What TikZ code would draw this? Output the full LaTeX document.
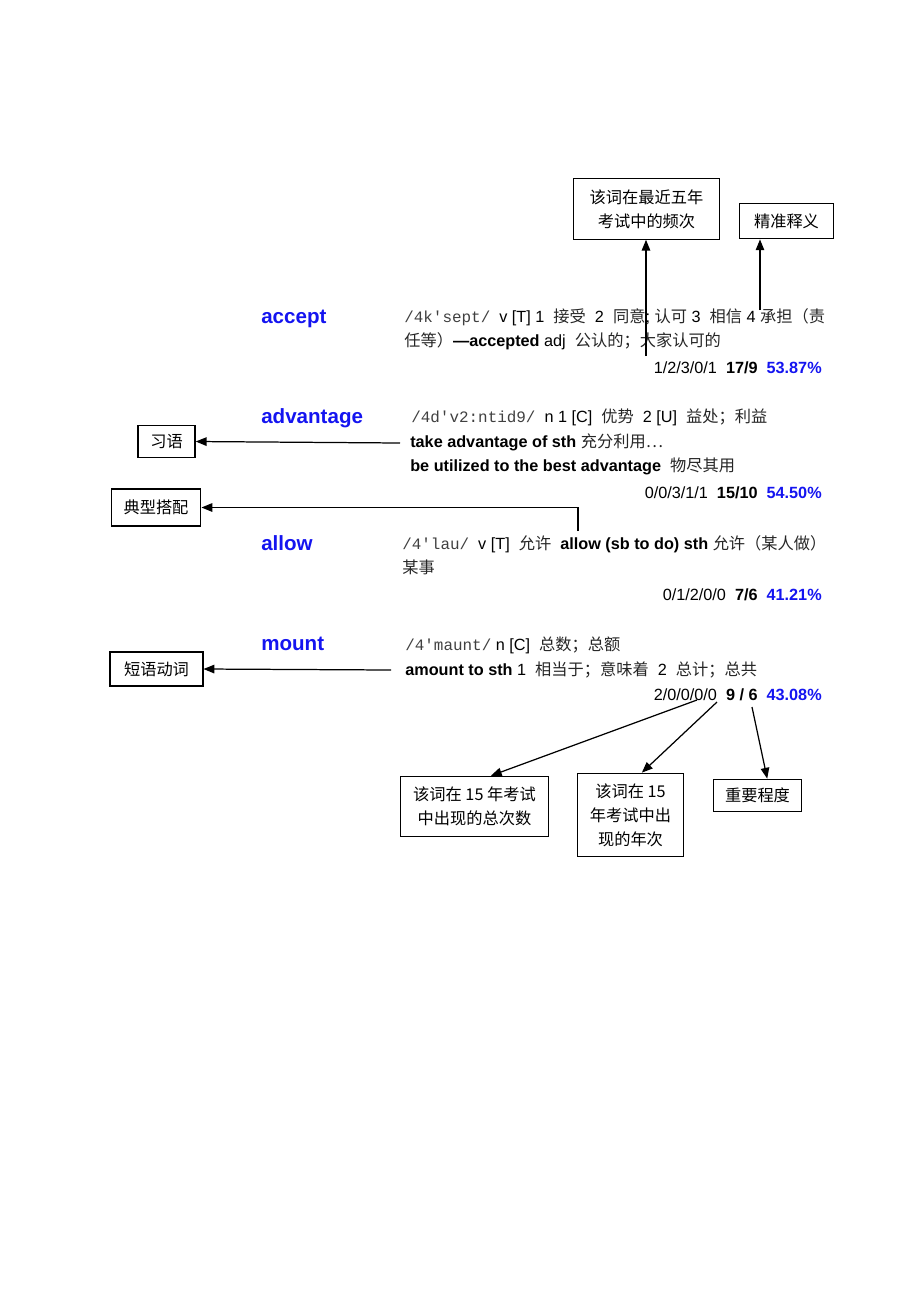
\documentclass[tikz,border=0pt]{standalone}
\usepackage{fontspec}
\setmainfont{Liberation Sans}
\setmonofont{Liberation Mono}
\newfontfamily\cjk{Noto Sans CJK SC}
\usetikzlibrary{positioning, arrows.meta}

\definecolor{hwblue}{RGB}{20,20,240}
\newcommand{\zh}[1]{{\cjk\color{black!85}#1}}
\newcommand{\ipa}[1]{{\ttfamily\fontsize{10.3}{12}\selectfont\color{black!75}#1}}
\newcommand{\qs}{\textquotesingle}

\tikzset{
  word/.style={anchor=base west, inner sep=0pt, text=hwblue,
               font=\fontsize{13.3}{16}\selectfont\bfseries},
  gloss/.style={anchor=base west, inner sep=0pt,
                font=\fontsize{10.5}{13}\selectfont},
  stat/.style={anchor=base east, inner sep=0pt,
               font=\fontsize{10.5}{13}\selectfont},
  tag/.style={draw, line width=0.8pt, align=center, inner sep=0pt,
              font=\cjk\fontsize{10.5}{15.5}\selectfont},
  arr/.style={-{Triangle[length=7pt,width=5.5pt]}, line width=0.8pt},
}

\begin{document}
\begin{tikzpicture}[x=0.6467pt, y=-0.6467pt]
  \useasboundingbox (0,0) rectangle (920,1302);

  % top labels
  \node[tag, minimum width=94pt, minimum height=39pt] (freq) at (646.5,209)
       {该词在最近五年\\考试中的频次};
  \node[tag, minimum width=61pt, minimum height=23pt] (sense) at (786.5,221) {精准释义};

  % accept
  \node[word] (accept) at (261,323) {accept};
  \node[gloss] (acceptA) at (404,322) {\ipa{/4k\qs sept/}\ \ v [T] 1\ \ \zh{接受}\ \ 2\ \ \zh{同意}; \zh{认可} 3\ \ \zh{相信} 4 \zh{承担（责}};
  \node[gloss] (acceptB) at (404,346) {\zh{任等）}\textbf{—accepted} adj\ \ \zh{公认的；大家认可的}};
  \node[stat] (acceptS) at (822,373) {1/2/3/0/1\ \ \textbf{17/9}\ \ \textcolor{hwblue}{\textbf{53.87\%}}};

  % advantage
  \node[tag, minimum width=37pt, minimum height=21pt] (idiom) at (166.5,441.5) {习语};
  \node[word] (adv) at (261,423) {advantage};
  \node[gloss] (advA) at (411,422) {\ipa{/4d\qs v2:ntid9/}\ \ n 1 [C]\ \ \zh{优势}\ \ 2 [U]\ \ \zh{益处；利益}};
  \node[gloss] (advB) at (410,447) {\textbf{take advantage of sth} \zh{充分利用…}};
  \node[gloss] (advC) at (410,471) {\textbf{be utilized to the best advantage}\ \ \zh{物尽其用}};
  \node[stat] (advS) at (822,498) {0/0/3/1/1\ \ \textbf{15/10}\ \ \textcolor{hwblue}{\textbf{54.50\%}}};

  % allow
  \node[tag, minimum width=58pt, minimum height=24pt] (colloc) at (156,507.5) {典型搭配};
  \node[word] (allow) at (261,550) {allow};
  \node[gloss] (allowA) at (402,549) {\ipa{/4\qs lau/}\ \ v [T]\ \ \zh{允许}\ \ \textbf{allow (sb to do) sth} \zh{允许（某人做）}};
  \node[gloss] (allowB) at (402,573) {\zh{某事}};
  \node[stat] (allowS) at (822,600) {0/1/2/0/0\ \ \textbf{7/6}\ \ \textcolor{hwblue}{\textbf{41.21\%}}};

  % mount
  \node[tag, minimum width=60pt, minimum height=22pt] (phrasal) at (156.5,669) {短语动词};
  \node[word] (mount) at (261,650) {mount};
  \node[gloss] (mountA) at (405,650) {\ipa{/4\qs maunt/}\ n [C]\ \ \zh{总数；总额}};
  \node[gloss] (mountB) at (405,675) {\textbf{amount to sth} 1\ \ \zh{相当于；意味着}\ \ 2\ \ \zh{总计；总共}};
  \node[stat] (mountS) at (822,700) {2/0/0/0/0\ \ \textbf{9 / 6}\ \ \textcolor{hwblue}{\textbf{43.08\%}}};

  % bottom labels
  \node[tag, minimum width=96pt, minimum height=39pt] (total) at (474.5,806.5)
       {该词在 15 年考试\\中出现的总次数};
  \node[tag, minimum width=69pt, minimum height=54pt] (years) at (630.5,815)
       {该词在 15\\年考试中出\\现的年次};
  \node[tag, minimum width=57pt, minimum height=21pt] (rank) at (757.5,795.5) {重要程度};

  \coordinate (f0) at (646,356);
  \coordinate (s0) at (760,310);
  \coordinate (i0) at (400,443);
  \coordinate (c0) at (578,531);
  \coordinate (p0) at (391,670);
  \coordinate (t0) at (697,700);
  \coordinate (y0) at (717,702);
  \coordinate (r0) at (752,707);

  \draw[arr] (f0) -- (f0 |- freq.south);
  \draw[arr] (s0) -- (s0 |- sense.south);
  \draw[arr] (i0) -- (idiom.east);
  \draw[arr] (c0) |- (colloc.east);
  \draw[arr] (p0) -- (phrasal.east);
  \draw[arr] (t0) -- (total.62);
  \draw[arr] (y0) -- (years.75);
  \draw[arr] (r0) -- (rank.60);

\end{tikzpicture}
\end{document}
